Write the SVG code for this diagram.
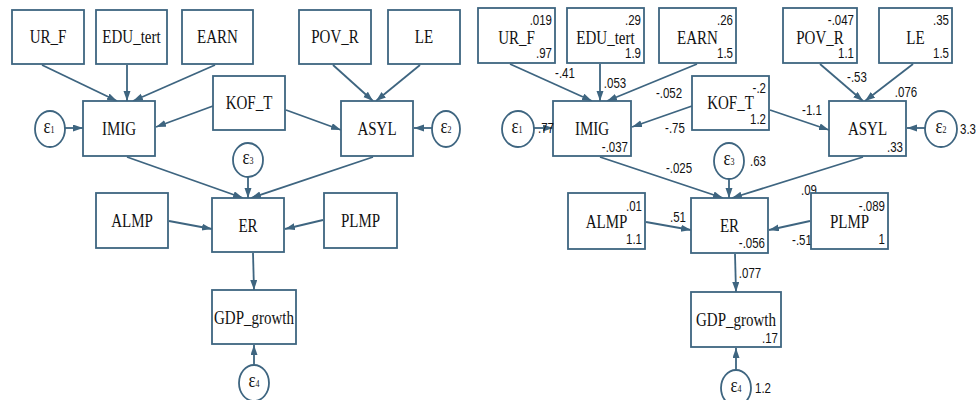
<svg xmlns="http://www.w3.org/2000/svg" width="977" height="400" viewBox="0 0 977 400">
<style>
.box{fill:#fff;stroke:#3e6580;stroke-width:1.8}
.err{fill:#fff;stroke:#3e6580;stroke-width:1.8}
.edge{fill:none;stroke:#3e6580;stroke-width:1.8;marker-end:url(#ah)}
.lab{font-family:"Liberation Serif","Times New Roman",serif;font-size:15px;fill:#111;text-anchor:middle}
.eps{font-family:"Liberation Serif","Times New Roman",serif;font-size:17px;fill:#111;text-anchor:middle}
.num{font-family:"Liberation Sans",Arial,sans-serif;font-size:11.5px;fill:#111;text-anchor:end}
.numl{font-family:"Liberation Sans",Arial,sans-serif;font-size:11.5px;fill:#111;text-anchor:start}
.numc{font-family:"Liberation Sans",Arial,sans-serif;font-size:11.5px;fill:#111;text-anchor:middle}
</style>
<defs>
<marker id="ah" markerUnits="userSpaceOnUse" markerWidth="11" markerHeight="8" refX="10" refY="3.5" orient="auto">
<path d="M0,0 L10,3.5 L0,7 z" fill="#3e6580"/>
</marker>
</defs>
<rect width="977" height="400" fill="#fff"/>

<g id="connectors">
<!-- left -->
<line class="edge" x1="42" y1="65" x2="117" y2="101"/>
<line class="edge" x1="127" y1="65" x2="127" y2="101"/>
<line class="edge" x1="215" y1="65" x2="133" y2="101"/>
<line class="edge" x1="213" y1="106" x2="156" y2="127"/>
<line class="edge" x1="65" y1="128" x2="83" y2="128"/>
<line class="edge" x1="333" y1="65" x2="373" y2="101"/>
<line class="edge" x1="420" y1="65" x2="376" y2="101"/>
<line class="edge" x1="286" y1="110" x2="341" y2="130"/>
<line class="edge" x1="432" y1="128" x2="414" y2="128"/>
<line class="edge" x1="127" y1="157" x2="243" y2="198"/>
<line class="edge" x1="248" y1="177" x2="248" y2="198"/>
<line class="edge" x1="373" y1="157" x2="251" y2="198"/>
<line class="edge" x1="169" y1="221" x2="212" y2="229"/>
<line class="edge" x1="323" y1="220" x2="285" y2="229"/>
<line class="edge" x1="253" y1="253" x2="254" y2="290"/>
<line class="edge" x1="254" y1="365" x2="254" y2="345"/>
<!-- right -->
<line class="edge" x1="510" y1="64" x2="592" y2="101"/>
<line class="edge" x1="600" y1="64" x2="600" y2="101"/>
<line class="edge" x1="697" y1="64" x2="607" y2="101"/>
<line class="edge" x1="692" y1="106" x2="632" y2="127"/>
<line class="edge" x1="534" y1="128" x2="553" y2="128"/>
<line class="edge" x1="820" y1="64" x2="863" y2="101"/>
<line class="edge" x1="913" y1="64" x2="865" y2="101"/>
<line class="edge" x1="770" y1="110" x2="829" y2="130"/>
<line class="edge" x1="925" y1="128" x2="907" y2="128"/>
<line class="edge" x1="600" y1="157" x2="723" y2="198"/>
<line class="edge" x1="729" y1="179" x2="729" y2="198"/>
<line class="edge" x1="863" y1="157" x2="732" y2="198"/>
<line class="edge" x1="646" y1="222" x2="691" y2="230"/>
<line class="edge" x1="810" y1="221" x2="769" y2="230"/>
<line class="edge" x1="735" y1="254" x2="736" y2="292"/>
<line class="edge" x1="736" y1="370" x2="736" y2="348"/>
<!-- path coefficients -->
<text class="numc" transform="translate(565,78) scale(1,1.25)">-.41</text>
<text class="numc" transform="translate(615,88) scale(1,1.25)">.053</text>
<text class="numc" transform="translate(669,98) scale(1,1.25)">-.052</text>
<text class="numc" transform="translate(675,133) scale(1,1.25)">-.75</text>
<text class="numc" transform="translate(857,82) scale(1,1.25)">-.53</text>
<text class="numc" transform="translate(906,97) scale(1,1.25)">.076</text>
<text class="numc" transform="translate(812,115) scale(1,1.25)">-1.1</text>
<text class="numc" transform="translate(679,173) scale(1,1.25)">-.025</text>
<text class="numc" transform="translate(809,195) scale(1,1.25)">.09</text>
<text class="numc" transform="translate(678,222) scale(1,1.25)">.51</text>
<text class="numc" transform="translate(802,245) scale(1,1.25)">-.51</text>
<text class="numc" transform="translate(750,278) scale(1,1.25)">.077</text>
</g>

<!-- LEFT DIAGRAM -->
<g id="L_UR_F"><rect class="box" x="12" y="10" width="72" height="54"/><text class="lab" transform="translate(48,43) scale(1,1.25)">UR_F</text></g>
<g id="L_EDU_tert"><rect class="box" x="96" y="10" width="71" height="54"/><text class="lab" transform="translate(131.5,43) scale(1,1.25)">EDU_tert</text></g>
<g id="L_EARN"><rect class="box" x="182" y="10" width="71" height="54"/><text class="lab" transform="translate(217.5,43) scale(1,1.25)">EARN</text></g>
<g id="L_POV_R"><rect class="box" x="299" y="10" width="72" height="54"/><text class="lab" transform="translate(335,43) scale(1,1.25)">POV_R</text></g>
<g id="L_LE"><rect class="box" x="388" y="10" width="72" height="54"/><text class="lab" transform="translate(424,43) scale(1,1.25)">LE</text></g>
<g id="L_KOF_T"><rect class="box" x="213" y="76" width="72" height="54"/><text class="lab" transform="translate(249,109) scale(1,1.25)">KOF_T</text></g>
<g id="L_IMIG"><rect class="box" x="83" y="101" width="72" height="55"/><text class="lab" transform="translate(119,135) scale(1,1.25)">IMIG</text></g>
<g id="L_ASYL"><rect class="box" x="341" y="101" width="72" height="55"/><text class="lab" transform="translate(377,135) scale(1,1.25)">ASYL</text></g>
<g id="L_ALMP"><rect class="box" x="96" y="193" width="72" height="55"/><text class="lab" transform="translate(132,227) scale(1,1.25)">ALMP</text></g>
<g id="L_ER"><rect class="box" x="212" y="198" width="72" height="54"/><text class="lab" transform="translate(248,232) scale(1,1.25)">ER</text></g>
<g id="L_PLMP"><rect class="box" x="324" y="193" width="73" height="55"/><text class="lab" transform="translate(360.5,227) scale(1,1.25)">PLMP</text></g>
<g id="L_GDP_growth"><rect class="box" x="212" y="290" width="84" height="54"/><text class="lab" transform="translate(254,324) scale(1,1.25)">GDP_growth</text></g>
<g id="L_e1"><ellipse class="err" cx="50" cy="129" rx="15" ry="18"/><text class="eps" transform="translate(49,133) scale(1,1.25)">ε<tspan font-size="8">1</tspan></text></g>
<g id="L_e2"><ellipse class="err" cx="446" cy="129" rx="14" ry="18"/><text class="eps" transform="translate(446,133) scale(1,1.25)">ε<tspan font-size="8">2</tspan></text></g>
<g id="L_e3"><ellipse class="err" cx="248" cy="160" rx="15" ry="17"/><text class="eps" transform="translate(248,164) scale(1,1.25)">ε<tspan font-size="8">3</tspan></text></g>
<g id="L_e4"><ellipse class="err" cx="254" cy="383" rx="15" ry="18"/><text class="eps" transform="translate(254,387) scale(1,1.25)">ε<tspan font-size="8">4</tspan></text></g>

<!-- RIGHT DIAGRAM -->
<g id="R_UR_F"><rect class="box" x="478" y="8" width="77" height="55"/><text class="lab" transform="translate(516.5,43.5) scale(1,1.25)">UR_F</text><text class="num" transform="translate(552,25) scale(1,1.25)">.019</text><text class="num" transform="translate(552,58) scale(1,1.25)">.97</text></g>
<g id="R_EDU_tert"><rect class="box" x="567" y="8" width="77" height="55"/><text class="lab" transform="translate(605.5,43.5) scale(1,1.25)">EDU_tert</text><text class="num" transform="translate(641,25) scale(1,1.25)">.29</text><text class="num" transform="translate(641,58) scale(1,1.25)">1.9</text></g>
<g id="R_EARN"><rect class="box" x="659" y="8" width="77" height="55"/><text class="lab" transform="translate(697.5,43.5) scale(1,1.25)">EARN</text><text class="num" transform="translate(733,25) scale(1,1.25)">.26</text><text class="num" transform="translate(733,58) scale(1,1.25)">1.5</text></g>
<g id="R_POV_R"><rect class="box" x="783" y="8" width="74" height="55"/><text class="lab" transform="translate(820,43.5) scale(1,1.25)">POV_R</text><text class="num" transform="translate(854,25) scale(1,1.25)">-.047</text><text class="num" transform="translate(854,58) scale(1,1.25)">1.1</text></g>
<g id="R_LE"><rect class="box" x="879" y="8" width="73" height="55"/><text class="lab" transform="translate(915.5,43.5) scale(1,1.25)">LE</text><text class="num" transform="translate(949,25) scale(1,1.25)">.35</text><text class="num" transform="translate(949,58) scale(1,1.25)">1.5</text></g>
<g id="R_KOF_T"><rect class="box" x="692" y="76" width="77" height="54"/><text class="lab" transform="translate(730.5,109) scale(1,1.25)">KOF_T</text><text class="num" transform="translate(766,93) scale(1,1.25)">-.2</text><text class="num" transform="translate(766,124) scale(1,1.25)">1.2</text></g>
<g id="R_IMIG"><rect class="box" x="553" y="101" width="78" height="55"/><text class="lab" transform="translate(592,135) scale(1,1.25)">IMIG</text><text class="num" transform="translate(628,152) scale(1,1.25)">-.037</text></g>
<g id="R_ASYL"><rect class="box" x="829" y="101" width="77" height="55"/><text class="lab" transform="translate(867.5,135) scale(1,1.25)">ASYL</text><text class="num" transform="translate(903,152) scale(1,1.25)">.33</text></g>
<g id="R_ALMP"><rect class="box" x="568" y="193" width="77" height="56"/><text class="lab" transform="translate(606.5,228) scale(1,1.25)">ALMP</text><text class="num" transform="translate(642,211) scale(1,1.25)">.01</text><text class="num" transform="translate(642,244) scale(1,1.25)">1.1</text></g>
<g id="R_ER"><rect class="box" x="691" y="198" width="77" height="55"/><text class="lab" transform="translate(729.5,232) scale(1,1.25)">ER</text><text class="num" transform="translate(765,248) scale(1,1.25)">-.056</text></g>
<g id="R_PLMP"><rect class="box" x="811" y="193" width="77" height="56"/><text class="lab" transform="translate(849.5,228) scale(1,1.25)">PLMP</text><text class="num" transform="translate(885,211) scale(1,1.25)">-.089</text><text class="num" transform="translate(885,244) scale(1,1.25)">1</text></g>
<g id="R_GDP_growth"><rect class="box" x="691" y="292" width="90" height="55"/><text class="lab" transform="translate(736,326) scale(1,1.25)">GDP_growth</text><text class="num" transform="translate(778,343) scale(1,1.25)">.17</text></g>
<g id="R_e1"><ellipse class="err" cx="518" cy="129" rx="16" ry="18"/><text class="eps" transform="translate(517,133) scale(1,1.25)">ε<tspan font-size="8">1</tspan></text><text class="numl" transform="translate(538,133) scale(1,1.25)">.77</text></g>
<g id="R_e2"><ellipse class="err" cx="941" cy="129" rx="16" ry="18"/><text class="eps" transform="translate(941,133) scale(1,1.25)">ε<tspan font-size="8">2</tspan></text><text class="numl" transform="translate(960,134) scale(1,1.25)">3.3</text></g>
<g id="R_e3"><ellipse class="err" cx="729" cy="161" rx="15" ry="18"/><text class="eps" transform="translate(729,165) scale(1,1.25)">ε<tspan font-size="8">3</tspan></text><text class="numl" transform="translate(750,166) scale(1,1.25)">.63</text></g>
<g id="R_e4"><ellipse class="err" cx="736" cy="388" rx="15" ry="18"/><text class="eps" transform="translate(736,392) scale(1,1.25)">ε<tspan font-size="8">4</tspan></text><text class="numl" transform="translate(755,393) scale(1,1.25)">1.2</text></g>
</svg>
